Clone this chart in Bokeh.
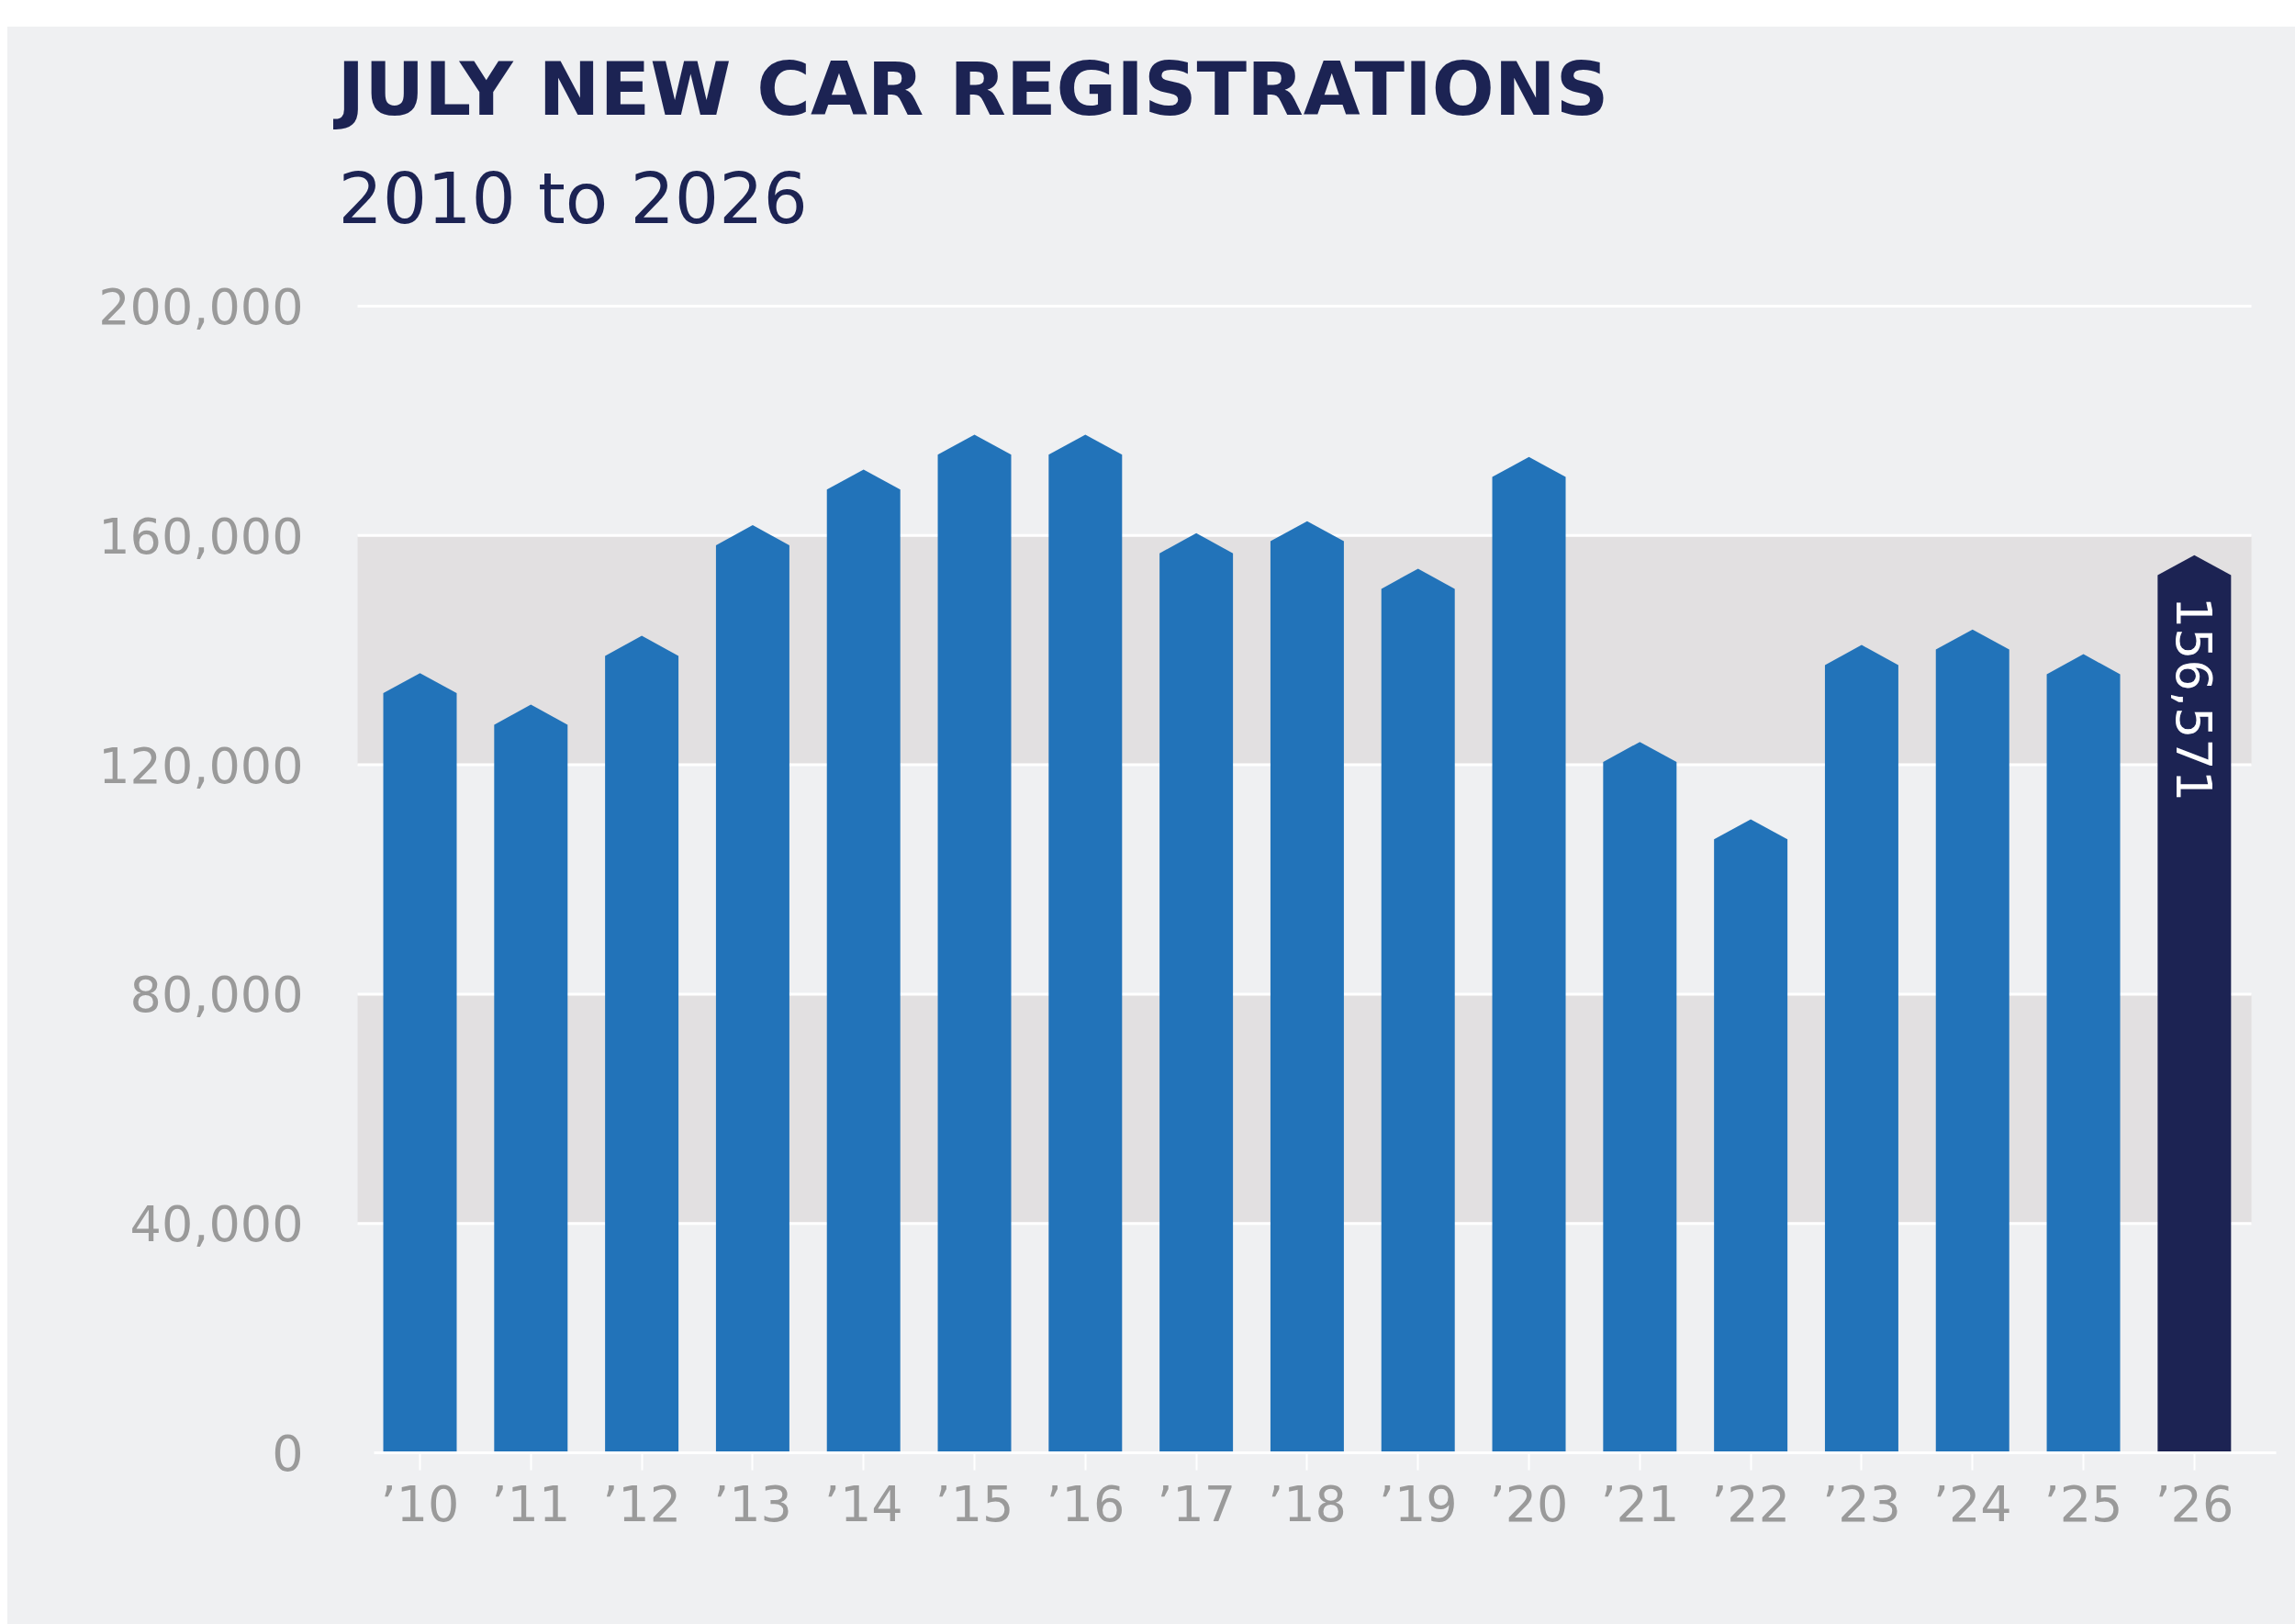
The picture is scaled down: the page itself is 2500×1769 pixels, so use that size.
import math
from bokeh.plotting import figure
from bokeh.models import Range1d, FixedTicker, NumeralTickFormatter, Spacer
from bokeh.layouts import column, row
from bokeh.core.properties import value
from bokeh.embed import file_html
from bokeh.resources import INLINE

# July new car registrations
years = ["’10", "’11", "’12", "’13", "’14", "’15", "’16", "’17", "’18",
         "’19", "’20", "’21", "’22", "’23", "’24", "’25", "’26"]
registrations = [136000, 130500, 142500, 161800, 171500, 177600, 177600, 160400, 162500,
                 154200, 173700, 124000, 110500, 140900, 143600, 139300, 156571]
highlight_label = "156,571"
y_ticks = [0, 40000, 80000, 120000, 160000, 200000]

title_text = "JULY NEW CAR REGISTRATIONS"
subtitle_text = "2010 to 2026"

# colours
panel_bg = "#EFF0F2"
band_col = "#E2E0E1"
bar_blue = "#2273B9"
navy = "#1C2353"
tick_grey = "#9A9A9A"

# the frame also holds the title area, so the text is not clipped
p = figure(width=2492, height=1740, output_backend="svg", toolbar_location=None,
           x_range=Range1d(-0.8444, 16.738), y_range=Range1d(0, 245319),
           min_border_left=347, min_border_right=21, min_border_top=21, min_border_bottom=187)
p.background_fill_color = panel_bg
p.border_fill_color = panel_bg
p.outline_line_color = None
p.styles = {"background-color": panel_bg}
p.xgrid.grid_line_color = None
p.ygrid.grid_line_color = None

# alternating bands and white grid lines, only as wide as the bars
gx0 = -0.563
gx1 = 16.515
p.quad(left=gx0, right=gx1, bottom=[y_ticks[1], y_ticks[3]], top=[y_ticks[2], y_ticks[4]],
       fill_color=band_col, line_color=None)
p.segment(x0=gx0, x1=gx1, y0=y_ticks[1:], y1=y_ticks[1:], line_color="white", line_width=3)

# y axis
p.yaxis.ticker = FixedTicker(ticks=y_ticks)
p.yaxis.formatter = NumeralTickFormatter(format="0,0")
p.yaxis.axis_line_color = None
p.yaxis.major_tick_line_color = None
p.yaxis.minor_tick_line_color = None
p.yaxis.major_tick_out = 0
p.yaxis.major_tick_in = 0
p.yaxis.major_label_standoff = 25
p.yaxis.major_label_text_font = "DejaVu Sans"
p.yaxis.major_label_text_font_size = "54px"
p.yaxis.major_label_text_color = tick_grey

# x axis (baseline + white ticks)
idx = list(range(len(years)))
p.xaxis.ticker = FixedTicker(ticks=idx)
p.xaxis.major_label_overrides = {i: years[i] for i in idx}
p.xaxis.bounds = (-0.41, 16.74)
p.xaxis.axis_line_color = "white"
p.xaxis.axis_line_width = 3
p.xaxis.major_tick_line_color = "white"
p.xaxis.major_tick_line_width = 2
p.xaxis.major_tick_in = 0
p.xaxis.major_tick_out = 19
p.xaxis.minor_tick_line_color = None
p.xaxis.major_label_standoff = 5
p.xaxis.major_label_text_font = "DejaVu Sans"
p.xaxis.major_label_text_font_size = "54px"
p.xaxis.major_label_text_color = tick_grey

# arrow shaped bars
hw = 0.331
tip = 3500
xs = []
ys = []
colors = []
for i in idx:
    v = registrations[i]
    xs.append([i - hw, i - hw, i, i + hw, i + hw])
    ys.append([0, v - tip, v, v - tip, 0])
    colors.append(navy if i == len(years) - 1 else bar_blue)
p.patches(xs, ys, fill_color=colors, line_color=None)

# value label on the last bar, reading downwards
last = len(years) - 1
p.text(x=[last], y=[registrations[last] - tip - 3700], text=[highlight_label],
       angle=-math.pi / 2, text_align="left", text_baseline="middle",
       text_color="white", text_font=value("DejaVu Sans"), text_font_size="54px")

# titles, top left
p.text(x=[-0.745], y=[237800], text=[title_text], text_align="left", text_baseline="alphabetic",
       text_color=navy, text_font=value("DejaVu Sans"), text_font_style="bold",
       text_font_size="80px")
p.text(x=[-0.737], y=[218740], text=[subtitle_text], text_align="left", text_baseline="alphabetic",
       text_color=navy, text_font=value("DejaVu Sans"), text_font_size="76px")

layout = column(Spacer(width=2500, height=29), row(Spacer(width=8, height=1740), p))
open("out.html", "w").write(file_html(layout, INLINE))
